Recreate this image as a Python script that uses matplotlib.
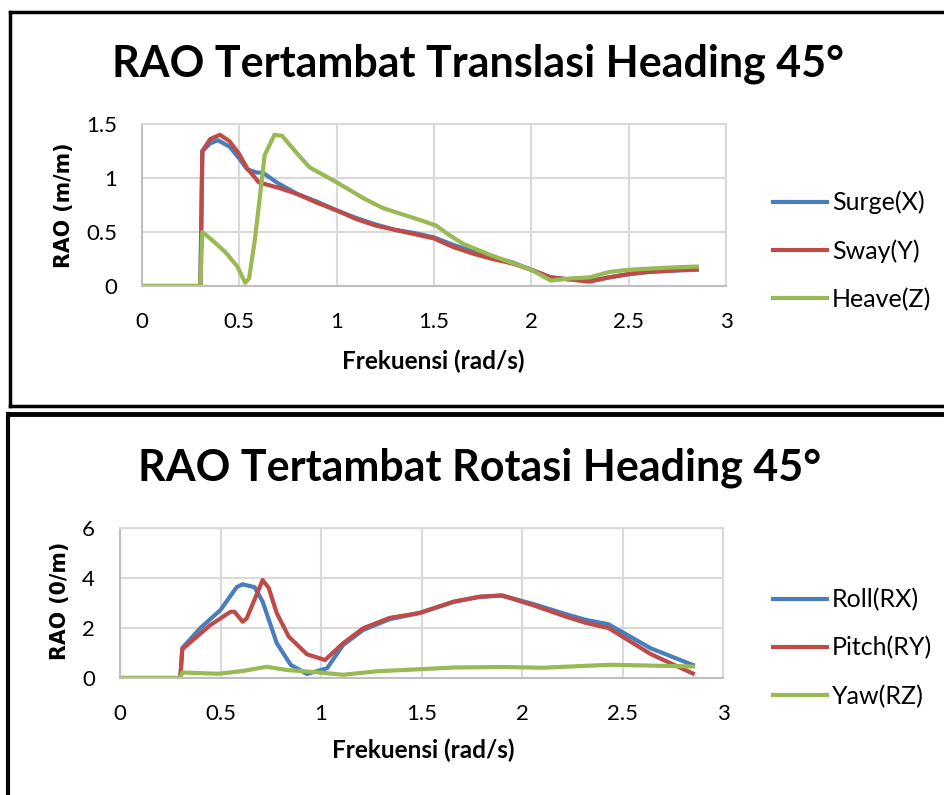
import matplotlib.pyplot as plt
from matplotlib.lines import Line2D

# translation RAO, heading 45 deg
f_surge = [0, 0.3, 0.31, 0.35, 0.39, 0.45, 0.5, 0.54, 0.59, 0.62, 0.7, 0.8, 0.9, 1.0, 1.1, 1.2, 1.3, 1.4, 1.5, 1.6, 1.7, 1.8, 1.9, 2.0, 2.1, 2.2, 2.3, 2.4, 2.5, 2.6, 2.7, 2.85]
surge = [0, 0, 1.25, 1.32, 1.35, 1.29, 1.18, 1.08, 1.05, 1.05, 0.95, 0.85, 0.78, 0.70, 0.63, 0.57, 0.52, 0.49, 0.45, 0.38, 0.32, 0.27, 0.22, 0.15, 0.08, 0.06, 0.05, 0.08, 0.11, 0.13, 0.14, 0.15]

f_sway = [0, 0.3, 0.31, 0.35, 0.4, 0.45, 0.5, 0.54, 0.6, 0.7, 0.8, 0.9, 1.0, 1.1, 1.2, 1.3, 1.4, 1.5, 1.6, 1.7, 1.8, 1.9, 2.0, 2.1, 2.2, 2.3, 2.4, 2.5, 2.6, 2.7, 2.85]
sway = [0, 0, 1.25, 1.36, 1.40, 1.34, 1.22, 1.09, 0.96, 0.91, 0.85, 0.77, 0.70, 0.62, 0.56, 0.52, 0.48, 0.44, 0.36, 0.30, 0.25, 0.21, 0.15, 0.08, 0.06, 0.04, 0.08, 0.11, 0.13, 0.14, 0.16]

f_heave = [0, 0.3, 0.31, 0.37, 0.43, 0.49, 0.53, 0.55, 0.58, 0.63, 0.68, 0.72, 0.8, 0.86, 1.0, 1.14, 1.24, 1.43, 1.51, 1.58, 1.65, 1.8, 2.0, 2.1, 2.2, 2.3, 2.4, 2.5, 2.6, 2.7, 2.85]
heave = [0, 0, 0.50, 0.41, 0.31, 0.18, 0.03, 0.07, 0.43, 1.21, 1.40, 1.39, 1.22, 1.10, 0.96, 0.81, 0.72, 0.61, 0.56, 0.47, 0.39, 0.28, 0.15, 0.05, 0.07, 0.08, 0.13, 0.15, 0.16, 0.17, 0.18]

# rotation RAO, heading 45 deg
f_roll = [0, 0.3, 0.31, 0.4, 0.5, 0.58, 0.61, 0.67, 0.71, 0.78, 0.85, 0.93, 1.03, 1.11, 1.21, 1.34, 1.49, 1.66, 1.79, 1.9, 2.06, 2.22, 2.32, 2.43, 2.64, 2.85]
roll = [0, 0, 1.2, 2.0, 2.72, 3.63, 3.75, 3.63, 3.05, 1.39, 0.52, 0.16, 0.39, 1.32, 1.92, 2.35, 2.6, 3.05, 3.25, 3.3, 2.95, 2.55, 2.32, 2.15, 1.19, 0.52]

f_pitch = [0, 0.3, 0.31, 0.45, 0.55, 0.57, 0.61, 0.63, 0.71, 0.74, 0.78, 0.84, 0.93, 1.02, 1.11, 1.21, 1.34, 1.49, 1.66, 1.79, 1.9, 2.06, 2.22, 2.32, 2.43, 2.64, 2.85]
pitch = [0, 0, 1.15, 2.12, 2.65, 2.65, 2.25, 2.38, 3.92, 3.6, 2.59, 1.65, 0.95, 0.72, 1.39, 1.99, 2.4, 2.6, 3.05, 3.25, 3.3, 2.9, 2.45, 2.2, 2.0, 0.96, 0.18]

f_yaw = [0, 0.3, 0.31, 0.49, 0.61, 0.73, 0.83, 0.98, 1.11, 1.28, 1.49, 1.66, 1.9, 2.1, 2.44, 2.85]
yaw = [0, 0, 0.22, 0.17, 0.28, 0.45, 0.32, 0.23, 0.13, 0.27, 0.35, 0.42, 0.44, 0.41, 0.53, 0.46]

blue, red, green = '#4a7ebb', '#be4b48', '#98b954'

W, H = 944, 795
fig = plt.figure(figsize=(W / 100, H / 100), dpi=100)


def box(x0, y0, x1, y1):
    # axes rectangle given in pixels from the top-left corner
    return [x0 / W, 1 - y1 / H, (x1 - x0) / W, (y1 - y0) / H]


def px(x, y):
    return x / W, 1 - y / H


def style(ax, ymax, ystep):
    ax.set_xlim(0, 3)
    ax.set_ylim(0, ymax)
    ax.set_xticks([0, 0.5, 1, 1.5, 2, 2.5, 3])
    ax.set_xticklabels(['0', '0.5', '1', '1.5', '2', '2.5', '3'])
    yt = [i * ystep for i in range(int(round(ymax / ystep)) + 1)]
    ax.set_yticks(yt)
    ax.set_yticklabels([('%g' % v) for v in yt])
    ax.grid(True, color='#d9d9d9', lw=1.5)
    ax.set_axisbelow(True)
    for s in ['top', 'right']:
        ax.spines[s].set_color('#d9d9d9')
        ax.spines[s].set_linewidth(1.5)
    for s in ['left', 'bottom']:
        ax.spines[s].set_color('#bfbfbf')
        ax.spines[s].set_linewidth(1.5)
    ax.tick_params(axis='y', length=0, labelsize=16, pad=18)
    ax.tick_params(axis='x', length=0, labelsize=16, pad=19)
    for t in ax.get_xticklabels() + ax.get_yticklabels():
        t.set_family('Lato')


def legend(ax, ycenter):
    ax.legend(loc='center left', bbox_to_anchor=px(773, ycenter), bbox_transform=fig.transFigure,
              frameon=False, prop={'family': 'Lato', 'size': 18}, handlelength=2.15, handletextpad=0.2,
              labelspacing=1.0, borderpad=0, borderaxespad=0)


ax1 = fig.add_axes(box(142, 124, 726, 286))
ax1.plot(f_surge, surge, color=blue, lw=3, label='Surge(X)')
ax1.plot(f_sway, sway, color=red, lw=3, label='Sway(Y)')
ax1.plot(f_heave, heave, color=green, lw=3, label='Heave(Z)')
style(ax1, 1.5, 0.5)
legend(ax1, 251)
fig.text(*px(478, 77), 'RAO Tertambat Translasi Heading 45°', ha='center', va='baseline',
         fontsize=31, fontweight='bold', family='Lato')
fig.text(*px(64, 205), 'RAO (m/m)', rotation=90, ha='center', va='center',
         fontsize=14.8, fontweight='bold', family='DejaVu Sans')
fig.text(*px(433, 361), 'Frekuensi (rad/s)', ha='center', va='center',
         fontsize=17.5, fontweight='bold', family='Lato')

ax2 = fig.add_axes(box(120, 528, 723, 678))
ax2.plot(f_roll, roll, color=blue, lw=3, label='Roll(RX)')
ax2.plot(f_pitch, pitch, color=red, lw=3, label='Pitch(RY)')
ax2.plot(f_yaw, yaw, color=green, lw=3, label='Yaw(RZ)')
style(ax2, 6, 2)
legend(ax2, 648)
fig.text(*px(480, 480), 'RAO Tertambat Rotasi Heading 45°', ha='center', va='baseline',
         fontsize=31, fontweight='bold', family='Lato')
fig.text(*px(60, 601), 'RAO (0/m)', rotation=90, ha='center', va='center',
         fontsize=14.8, fontweight='bold', family='DejaVu Sans')
fig.text(*px(423, 750), 'Frekuensi (rad/s)', ha='center', va='center',
         fontsize=17.5, fontweight='bold', family='Lato')

# black chart borders (both cut off at the image edge)
fig.add_artist(Line2D(*zip(px(10, 12), px(944, 12)), color='black', lw=2.5))
fig.add_artist(Line2D(*zip(px(10, 12), px(10, 406)), color='black', lw=2.5))
fig.add_artist(Line2D(*zip(px(10, 406), px(944, 406)), color='black', lw=2.5))
fig.add_artist(Line2D(*zip(px(8, 414), px(944, 414)), color='black', lw=3.5))
fig.add_artist(Line2D(*zip(px(8, 414), px(8, 795)), color='black', lw=3))

fig.savefig('out.png', dpi=100)
